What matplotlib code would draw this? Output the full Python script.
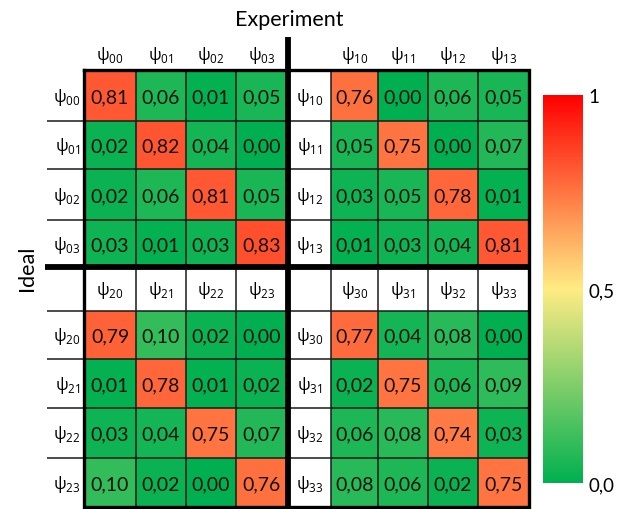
import matplotlib
matplotlib.use("Agg")
import matplotlib.pyplot as plt
from matplotlib.colors import LinearSegmentedColormap, Normalize
from matplotlib.patches import Rectangle
from matplotlib.cm import ScalarMappable

# Overlap matrices: block (i, j) compares ideal states psi_i* with measured psi_j*
block_00 = [[0.81, 0.06, 0.01, 0.05],
            [0.02, 0.82, 0.04, 0.00],
            [0.02, 0.06, 0.81, 0.05],
            [0.03, 0.01, 0.03, 0.83]]
block_01 = [[0.76, 0.00, 0.06, 0.05],
            [0.05, 0.75, 0.00, 0.07],
            [0.03, 0.05, 0.78, 0.01],
            [0.01, 0.03, 0.04, 0.81]]
block_10 = [[0.79, 0.10, 0.02, 0.00],
            [0.01, 0.78, 0.01, 0.02],
            [0.03, 0.04, 0.75, 0.07],
            [0.10, 0.02, 0.00, 0.76]]
block_11 = [[0.77, 0.04, 0.08, 0.00],
            [0.02, 0.75, 0.06, 0.09],
            [0.06, 0.08, 0.74, 0.03],
            [0.08, 0.06, 0.02, 0.75]]

group_ids = ["0", "1", "2", "3"]
block_pairs = {("0", "1"): (block_00, block_01), ("2", "3"): (block_10, block_11)}

colorbar_ticks = [0.0, 0.5, 1.0]
colorbar_ticklabels = ["0,0", "0,5", "1"]

FONT = ["Lato", "DejaVu Sans"]
PSI_FONT = "Open Sans"
cmap = LinearSegmentedColormap.from_list(
    "gyr", [(0.0, "#00B050"), (0.5, "#FFEB84"), (1.0, "#FF0000")])
norm = Normalize(0, 1)

fig = plt.figure(figsize=(6.24, 5.10), dpi=100)
ax = fig.add_axes([0, 0, 1, 1])
ax.set_xlim(0, 624)
ax.set_ylim(510, 0)
ax.axis("off")

# Layout of the table (pixel grid)
label_left = 47
left_cols = [84, 136, 186, 236, 287]
right_label = (289, 331)
right_cols = [331, 378, 428, 478, 529]
top_header_y = (38, 71)
top_rows = [71, 122, 170, 221, 268]
mid_header = (268, 312)
bot_rows = [312, 360, 409, 459, 508]
grid_top, grid_bottom = 71, 508
grid_left, grid_right = 84, 529

NUM_SIZE = 14
PSI_SIZE = 12


def psi(i, j):
    return "ψ$_{\\mathregular{" + i + j + "}}$"


def draw_block(data, cols, rows):
    for r in range(4):
        for c in range(4):
            v = data[r][c]
            x0, x1 = cols[c], cols[c + 1]
            y0, y1 = rows[r], rows[r + 1]
            ax.add_patch(Rectangle((x0, y0), x1 - x0, y1 - y0,
                                   facecolor=cmap(norm(v)), edgecolor="none"))
            ax.text((x0 + x1) / 2, (y0 + y1) / 2 + 1, f"{v:.2f}".replace(".", ","),
                    ha="center", va="center", fontsize=NUM_SIZE, family=FONT,
                    color="#111111")


for (gl, gr), rows, header in [(("0", "1"), top_rows, top_header_y),
                               (("2", "3"), bot_rows, mid_header)]:
    left_data, right_data = block_pairs[(gl, gr)]
    draw_block(left_data, left_cols, rows)
    draw_block(right_data, right_cols, rows)
    hy = (header[0] + header[1]) / 2 + 1
    for k, sub in enumerate(group_ids):
        ax.text((left_cols[k] + left_cols[k + 1]) / 2, hy, psi(gl, sub),
                ha="center", va="center", fontsize=PSI_SIZE, family=PSI_FONT)
        ax.text((right_cols[k] + right_cols[k + 1]) / 2, hy, psi(gr, sub),
                ha="center", va="center", fontsize=PSI_SIZE, family=PSI_FONT)
        ry = (rows[k] + rows[k + 1]) / 2 + 1
        ax.text(80, ry, psi(gl, sub), ha="right", va="center",
                fontsize=PSI_SIZE, family=PSI_FONT)
        ax.text(sum(right_label) / 2, ry, psi(gr, sub), ha="center",
                va="center", fontsize=PSI_SIZE, family=PSI_FONT)

lk = dict(color="#1a1a1a", lw=1.1, solid_capstyle="butt")
# thin lines across the whole table body
for y in top_rows[1:-1] + [mid_header[1]] + bot_rows[1:-1]:
    ax.plot([label_left, grid_right], [y, y], **lk)
for x in left_cols[1:-1]:
    ax.plot([x, x], [grid_top, grid_bottom], **lk)
for x in right_cols[:-1]:
    ax.plot([x, x], [grid_top, grid_bottom], **lk)
# header cells of the lower half
ax.plot([left_cols[0], left_cols[-1]], [mid_header[0], mid_header[0]], **lk)

# outer frame and the two thick separators
fk = dict(color="black", solid_capstyle="butt")
ax.plot([grid_left, grid_right, grid_right, grid_left, grid_left],
        [grid_top, grid_top, grid_bottom, grid_bottom, grid_top],
        lw=2.4, solid_joinstyle="miter", color="black")
ax.plot([287.5, 287.5], [38, grid_bottom], lw=4.2, **fk)
ax.plot([label_left - 2, grid_right], [268, 268], lw=4.2, **fk)

ax.text(289, 20, "Experiment", ha="center", va="center", fontsize=15.5, family=FONT)
ax.text(27, 268, "Ideal", ha="center", va="center", rotation=90,
        fontsize=15.5, family=FONT)

# colour scale
cax = fig.add_axes([543 / 624, (510 - 484) / 510, 40 / 624, 388 / 510])
cb = fig.colorbar(ScalarMappable(norm=norm, cmap=cmap), cax=cax,
                  ticks=colorbar_ticks)
cb.outline.set_visible(False)
cb.ax.set_yticklabels(colorbar_ticklabels, family=FONT, fontsize=13.5)
cb.ax.tick_params(length=0, pad=4)

fig.savefig("out.png", dpi=100)
